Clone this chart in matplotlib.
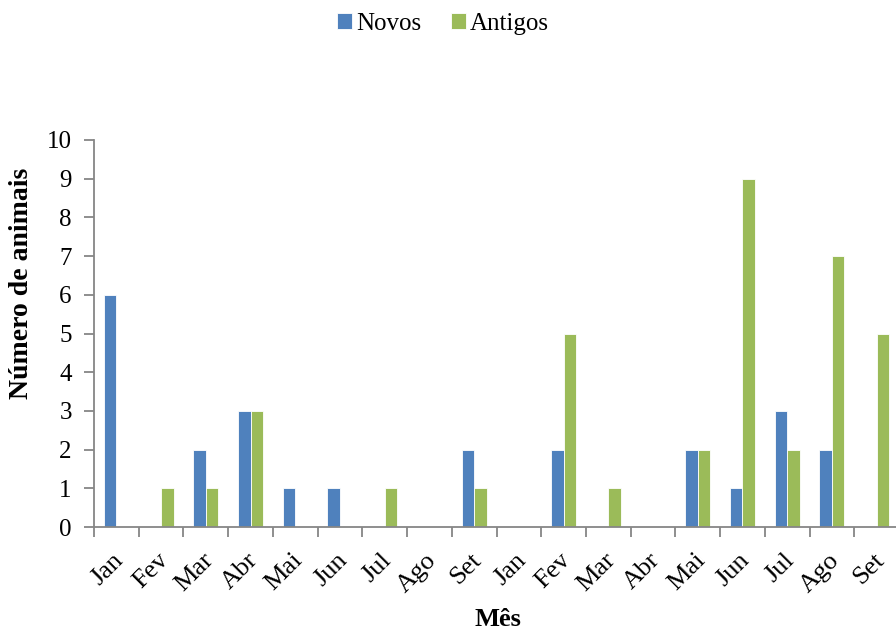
import numpy as np
import matplotlib.pyplot as plt
import matplotlib.transforms as mtransforms
from matplotlib.ticker import FixedLocator

plt.rcParams['font.family'] = ['Liberation Serif', 'DejaVu Serif']

meses = ['Jan', 'Fev', 'Mar', 'Abr', 'Mai', 'Jun', 'Jul', 'Ago', 'Set',
         'Jan', 'Fev', 'Mar', 'Abr', 'Mai', 'Jun', 'Jul', 'Ago', 'Set']
novos = [6, 0, 2, 3, 1, 1, 0, 0, 2, 0, 2, 0, 0, 2, 1, 3, 2, 0]
antigos = [0, 1, 1, 3, 0, 0, 1, 0, 1, 0, 5, 1, 0, 2, 9, 2, 7, 5]

azul = '#4F81BD'
verde = '#9BBB59'
cinza = '#868686'

fig = plt.figure(figsize=(8.96, 6.33), dpi=100)
ax = fig.add_axes([94 / 896, 1 - 527 / 633, 805 / 896, 387 / 633])

x = np.arange(len(meses))
w = 0.28
ax.bar(x - w / 2, novos, w, color=azul, edgecolor='white', linewidth=0.6, label='Novos')
ax.bar(x + w / 2, antigos, w, color=verde, edgecolor='white', linewidth=0.6, label='Antigos')

ax.set_xlim(-0.5, len(meses) - 0.5)
ax.set_ylim(0, 10)
ax.set_yticks(range(0, 11))

ax.set_xticks(x)
ax.set_xticklabels(meses, rotation=45, ha='right', rotation_mode='anchor')
ax.xaxis.set_minor_locator(FixedLocator(np.arange(-0.5, len(meses), 1)))
ax.tick_params(axis='x', which='major', length=0, pad=16, labelsize=19)
ax.tick_params(axis='x', which='minor', length=7, width=1.3, color=cinza)
ax.tick_params(axis='y', length=7, width=1.3, color=cinza, labelsize=18, pad=9)

# desloca um pouco os nomes dos meses para a esquerda
desloc = mtransforms.ScaledTranslation(-4 / 100, 0, fig.dpi_scale_trans)
for lbl in ax.get_xticklabels():
    lbl.set_transform(lbl.get_transform() + desloc)

for s in ['top', 'right']:
    ax.spines[s].set_visible(False)
for s in ['left', 'bottom']:
    ax.spines[s].set_color(cinza)
    ax.spines[s].set_linewidth(1.3)

# rótulos dos eixos
fig.text(22 / 896, 1 - 283 / 633, 'Número de animais', fontsize=20, fontweight='bold',
         rotation=90, ha='center', va='center')
fig.text(498 / 896, 1 - 619 / 633, 'Mês', fontsize=19, fontweight='bold', ha='center', va='center')

fig.legend(loc='center', bbox_to_anchor=(443 / 896, 1 - 24 / 633), ncol=2, frameon=False,
           fontsize=18, handlelength=0.6, handleheight=0.6, handletextpad=0.15, columnspacing=1.2)

fig.savefig('out.png', dpi=100)
